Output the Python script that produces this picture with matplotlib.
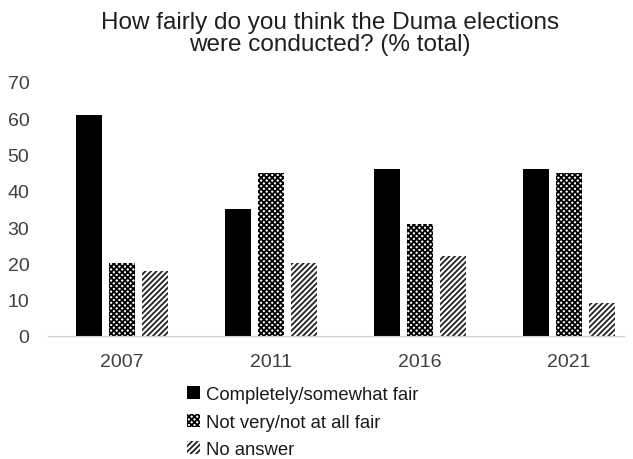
import numpy as np
import matplotlib
matplotlib.use("Agg")
import matplotlib.pyplot as plt

plt.rcParams["font.family"] = ["Liberation Sans", "DejaVu Sans"]
plt.rcParams["hatch.linewidth"] = 1.3

years = ["2007", "2011", "2016", "2021"]
fair = [61, 35, 46, 46]
unfair = [20, 45, 31, 45]
no_answer = [18, 20, 22, 9]
series_labels = ["Completely/somewhat fair", "Not very/not at all fair", "No answer"]

fig = plt.figure(figsize=(6.33, 4.60), dpi=100)
# axes runs slightly past the right edge, like the cropped original
ax = fig.add_axes([47.5 / 633, 123 / 460, 596 / 633, 254 / 460])

x = np.arange(len(years))
w = 26 / 149
step = 33 / 149

ax.bar(x - step, fair, w, color="black", label=series_labels[0])
ax.bar(x, unfair, w, color="white", edgecolor="black", hatch="xxxxxx",
       linewidth=0, label=series_labels[1])
ax.bar(x + step, no_answer, w, color="white", edgecolor="#222222", hatch="//////",
       linewidth=0, label=series_labels[2])

ax.set_xlim(-0.5, 3.5)
ax.set_ylim(0, 70)
ax.set_yticks(range(0, 71, 10))
ax.set_xticks(x)
ax.set_xticklabels(years)
ax.tick_params(axis="both", length=0, labelsize=14, colors="#404040")
ax.tick_params(axis="y", pad=13)
ax.tick_params(axis="x", pad=12)
for s in ["top", "right", "left"]:
    ax.spines[s].set_visible(False)
ax.spines["bottom"].set_color("#d0d0d0")
ax.spines["bottom"].set_bounds(-0.5, 3.37)

fig.text(330 / 633, 0.975, "How fairly do you think the Duma elections\nwere conducted? (% total)",
         ha="center", va="top", fontsize=17.5, color="#1f1f1f", linespacing=1.05)

leg = fig.legend(loc="upper left", bbox_to_anchor=(180 / 633, 1 - 380 / 460),
                 frameon=False, fontsize=13.3, handlelength=0.7, handleheight=0.7,
                 handletextpad=0.3, labelspacing=0.55, borderaxespad=0)
for t in leg.get_texts():
    t.set_color("#1a1a1a")

fig.savefig("out.png", dpi=100)
